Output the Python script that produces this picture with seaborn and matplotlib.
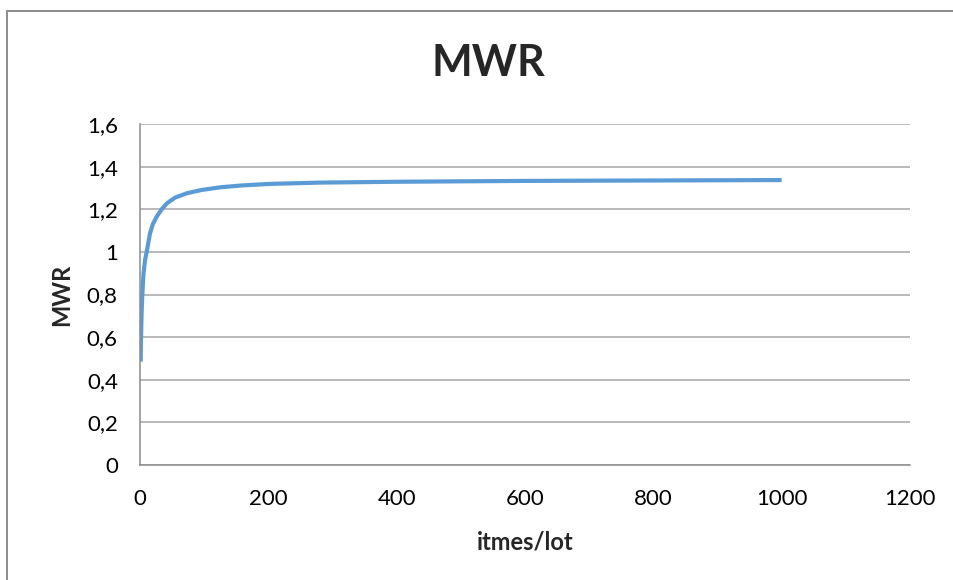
import matplotlib
matplotlib.use("Agg")
import matplotlib.pyplot as plt
from matplotlib.lines import Line2D
from matplotlib.ticker import FuncFormatter
import seaborn as sns
import pandas as pd

# MWR as a function of items per lot
items_per_lot = [1, 1.6, 2.5, 3.6, 5.5, 7.8, 10.4, 15.6, 20, 26, 33.8, 42, 55,
                 73, 95, 125, 160, 203, 280, 400, 600, 800, 1000]
mwr = [0.485, 0.6, 0.71, 0.8, 0.9, 0.96, 1.0, 1.087, 1.13, 1.165, 1.2, 1.228,
       1.255, 1.275, 1.29, 1.303, 1.312, 1.319, 1.325, 1.329, 1.333, 1.335, 1.337]

x_ticks = [0, 200, 400, 600, 800, 1000, 1200]
y_ticks = [0, 0.2, 0.4, 0.6, 0.8, 1.0, 1.2, 1.4, 1.6]

df = pd.DataFrame({"itmes/lot": items_per_lot, "MWR": mwr})

sns.set_theme(style="white")
plt.rcParams["font.family"] = ["Lato", "DejaVu Sans"]

fig = plt.figure(figsize=(9.54, 5.8), dpi=100)
ax = fig.add_axes([140 / 954, 1 - 465 / 580, 770 / 954, 341 / 580])

sns.lineplot(data=df, x="itmes/lot", y="MWR", ax=ax, color="#5B9BD5",
             linewidth=3.0, solid_capstyle="butt")

ax.set_xlim(0, 1200)
ax.set_ylim(0, 1.6)
ax.set_xticks(x_ticks)
ax.set_yticks(y_ticks)
ax.yaxis.set_major_formatter(FuncFormatter(lambda v, p: f"{v:g}".replace(".", ",")))

grid_c = "#a6a6a6"
ax.grid(axis="y", color=grid_c, linewidth=1.1)
ax.grid(axis="x", visible=False)
for s in ["top", "right"]:
    ax.spines[s].set_visible(False)
for s in ["left", "bottom"]:
    ax.spines[s].set_color("#8c8c8c")
    ax.spines[s].set_linewidth(1.1)
ax.tick_params(axis="both", which="major", length=7, width=1.1, color="#8c8c8c",
               labelsize=16, labelcolor="black", direction="out")
ax.tick_params(axis="x", pad=10)
ax.tick_params(axis="y", pad=9)

ax.set_xlabel("itmes/lot", fontsize=17, fontweight="bold", labelpad=16)
ax.set_ylabel("MWR", fontsize=17, fontweight="bold", labelpad=10)
fig.text(0.512, 1 - 63 / 580, "MWR", ha="center", va="center",
         fontsize=31, fontweight="bold")

# chart frame (top and left edges)
frame_kw = dict(transform=fig.transFigure, color="#8c8c8c", linewidth=1.4)
fig.add_artist(Line2D([7 / 954, 1.0], [1 - 11 / 580, 1 - 11 / 580], **frame_kw))
fig.add_artist(Line2D([7 / 954, 7 / 954], [0.0, 1 - 11 / 580], **frame_kw))

fig.savefig("out.png", dpi=100)
